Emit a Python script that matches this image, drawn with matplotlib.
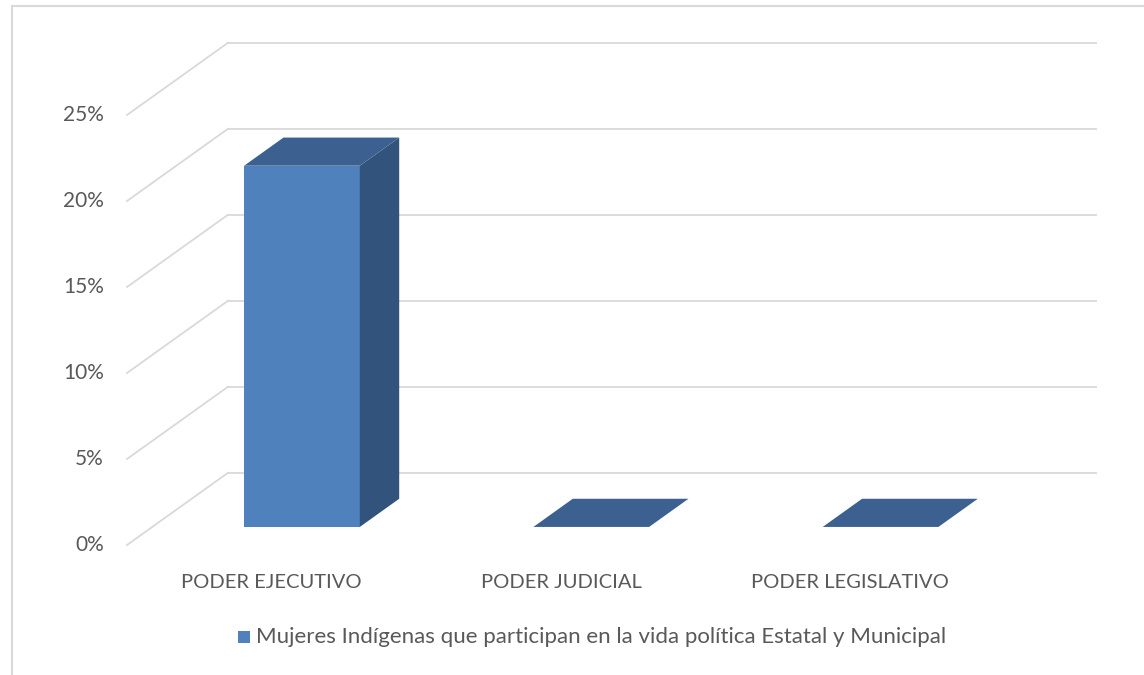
import matplotlib.pyplot as plt
from matplotlib.patches import Polygon, Rectangle
from matplotlib.lines import Line2D

categorias = ["PODER EJECUTIVO", "PODER JUDICIAL", "PODER LEGISLATIVO"]
valores = [21, 0, 0]  # porcentaje
ticks = [0, 5, 10, 15, 20, 25]
serie = "Mujeres Indígenas que participan en la vida política Estatal y Municipal"

plt.rcParams['font.family'] = ['Lato', 'DejaVu Sans']
gris_txt = "#595959"
gris_lin = "#D9D9D9"
c_frente = "#4F81BD"
c_lado = "#32537C"
c_tope = "#3C6190"

# geometria (pixeles de la imagen -> datos)
W, H = 1144, 675
x0_px, paso_px = 127, 289.3      # borde izq. del piso, ancho por categoria
y0_px, pct_px = 545, 17.2         # 0% al frente, pixeles por 1%
DX, DZ = 101 / paso_px, 4.2       # profundidad total (categorias, %)
f0, f1 = 0.30, 0.69               # profundidad de la barra (frente, fondo)
zf0 = 1.05                        # altura de la base frontal de la barra (%)
ancho = 0.40

fig = plt.figure(figsize=(W / 100, H / 100), dpi=100)
ax = fig.add_axes([0, 0, 1, 1])
ax.set_xlim((0 - x0_px) / paso_px - 0.5, (W - x0_px) / paso_px - 0.5)
ax.set_ylim((y0_px - H) / pct_px, y0_px / pct_px)
ax.axis("off")

n = len(categorias)
xl, xr = -0.5, n - 0.5

# rejilla: pared lateral y pared del fondo
for t in ticks:
    ax.plot([xl, xl + DX], [t, t + DZ], color=gris_lin, lw=1.3, zorder=1)
    ax.plot([xl + DX, xr + DX], [t + DZ, t + DZ], color=gris_lin, lw=1.3, zorder=1)
    ax.text(xl - 0.08, t, f"{t}%", ha="right", va="center", fontsize=15, color=gris_txt)

# barras 3D
for i, v in enumerate(valores):
    a, b = i - ancho / 2, i + ancho / 2
    fx, fz = f0 * DX, zf0
    bx, bz = f1 * DX, zf0 + (f1 - f0) * DZ
    # cara frontal
    ax.add_patch(Polygon([(a + fx, fz), (b + fx, fz), (b + fx, fz + v), (a + fx, fz + v)],
                         closed=True, facecolor=c_frente, edgecolor="none", zorder=3))
    # cara lateral
    ax.add_patch(Polygon([(b + fx, fz), (b + bx, bz), (b + bx, bz + v), (b + fx, fz + v)],
                         closed=True, facecolor=c_lado, edgecolor="none", zorder=3))
    # tapa
    ax.add_patch(Polygon([(a + fx, fz + v), (b + fx, fz + v), (b + bx, bz + v), (a + bx, bz + v)],
                         closed=True, facecolor=c_tope, edgecolor="none", zorder=4))
    ax.text(i, -2.2, categorias[i], ha="center", va="center", fontsize=14.5, color=gris_txt)

# leyenda
fig.patches.append(Rectangle((238 / W, 1 - 643 / H), 12 / W, 12 / H, transform=fig.transFigure,
                             facecolor=c_frente, edgecolor="none"))
fig.text(256 / W, 1 - 637 / H, serie, ha="left", va="center", fontsize=16, color=gris_txt)

# borde del area del grafico
fig.add_artist(Line2D([12 / W, 12 / W], [0, 1 - 6 / H], color=gris_lin, lw=1.5))
fig.add_artist(Line2D([12 / W, 1], [1 - 6 / H, 1 - 6 / H], color=gris_lin, lw=1.5))

fig.savefig("out.png", dpi=100)
